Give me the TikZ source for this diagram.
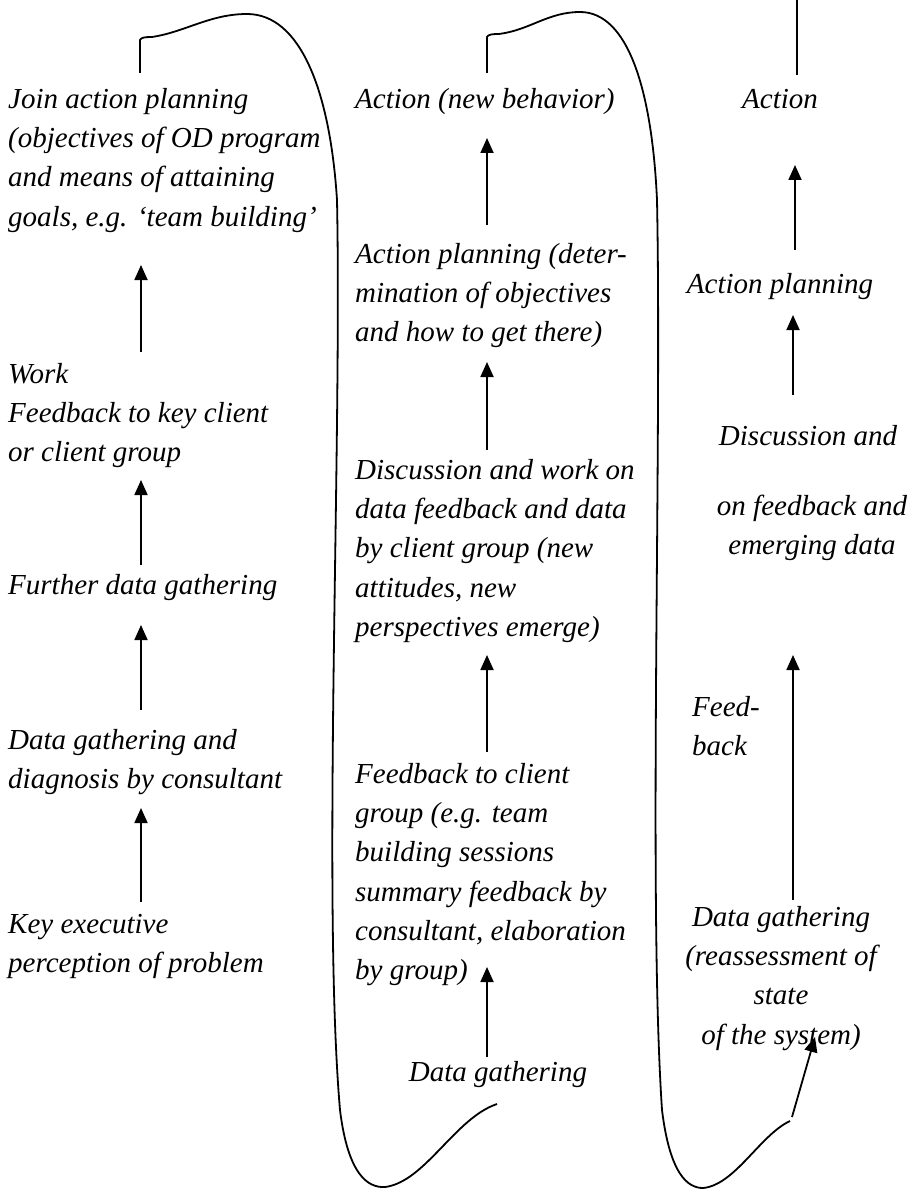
\documentclass[tikz,border=0pt]{standalone}
\usepackage{fontspec}
\setmainfont{Liberation Serif}
\usetikzlibrary{arrows.meta}
\begin{document}
\begin{tikzpicture}[x=1pt,y=-1pt,
  txt/.style={inner sep=0pt, font=\fontsize{29}{39.3}\selectfont\itshape},
  lt/.style={txt, anchor=north west, align=left},
  ct/.style={txt, anchor=north, align=center},
  arr/.style={line width=1.8pt, -{Triangle[length=15pt,width=13pt]}},
  loopline/.style={line width=1.8pt, line join=round}]
\useasboundingbox (0,0) rectangle (920,1190);

% ---- left column: initial diagnosis ----
\node[lt] (L1) at (8,80.5) {\strut Join action planning\\(objectives of OD program\\and means of attaining\\goals, e.g. ‘team building’};
\node[lt] (L2) at (8,355.5) {\strut Work\\Feedback to key client\\or client group};
\node[lt] (L3) at (8,566.5) {\strut Further data gathering};
\node[lt] (L4) at (8,721.5) {\strut Data gathering and\\diagnosis by consultant};
\node[lt] (L5) at (8,905.5) {\strut Key executive\\perception of problem};

% ---- middle column: team building cycle ----
\node[lt] (M1) at (355,80.5) {\strut Action (new behavior)};
\node[lt] (M2) at (355,235.5) {\strut Action planning (deter-\\mination of objectives\\and how to get there)};
\node[lt] (M3) at (355,451.5) {\strut Discussion and work on\\data feedback and data\\by client group (new\\attitudes, new\\perspectives emerge)};
\node[lt] (M4) at (355,755.5) {\strut Feedback to client\\group (e.g. team\\building sessions\\summary feedback by\\consultant, elaboration\\by group)};
\node[ct] (M5) at (498,1053.5) {\strut Data gathering};

% ---- right column: reassessment cycle ----
\node[ct] (R1) at (780,80.5) {\strut Action};
\node[ct] (R2) at (780,265.5) {\strut Action planning};
\node[ct] (R3) at (808,417.5) {\strut Discussion and};
\node[ct] (R4) at (812,487.5) {\strut on feedback and\\emerging data};
\node[lt] (R5) at (692,688.5) {\strut Feed-\\back};
\node[ct] (R6) at (781,898.5) {\strut Data gathering\\(reassessment of\\state\\of the system)};

% arrow end points
\coordinate (l1a) at (141,902); \coordinate (l1b) at (141,808);
\coordinate (l2a) at (141,710); \coordinate (l2b) at (141,625);
\coordinate (l3a) at (141,565); \coordinate (l3b) at (141,480);
\coordinate (l4a) at (141,352); \coordinate (l4b) at (141,265);
\coordinate (m1a) at (487,1057); \coordinate (m1b) at (487,967);
\coordinate (m2a) at (487,752); \coordinate (m2b) at (487,655);
\coordinate (m3a) at (487,450); \coordinate (m3b) at (487,362);
\coordinate (m4a) at (487,225); \coordinate (m4b) at (487,138);
\coordinate (r1a) at (793,900); \coordinate (r1b) at (793,655);
\coordinate (r2a) at (793,395); \coordinate (r2b) at (793,315);
\coordinate (r3a) at (795,250); \coordinate (r3b) at (795,165);
\coordinate (r4a) at (792,1117); \coordinate (r4b) at (815,1037);

\draw[arr] (l1a) -- (l1b);
\draw[arr] (l2a) -- (l2b);
\draw[arr] (l3a) -- (l3b);
\draw[arr] (l4a) -- (l4b);
\draw[arr] (m1a) -- (m1b);
\draw[arr] (m2a) -- (m2b);
\draw[arr] (m3a) -- (m3b);
\draw[arr] (m4a) -- (m4b);
\draw[arr] (r1a) -- (r1b);
\draw[arr] (r2a) -- (r2b);
\draw[arr] (r3a) -- (r3b);
\draw[arr] (r4a) -- (r4b);

% loop from the left column over to the start of the middle cycle
\coordinate (ta) at (140,73);
\coordinate (ea) at (497,1104);
\draw[loopline] (ta) -- (140,40)
  .. controls (141,37.5) and (145,37) .. (152,37)
  .. controls (185,32) and (210,14) .. (247,14)
  .. controls (300,14) and (330,90) .. (337,200)
  .. controls (342,450) and (322,900) .. (340,1110)
  .. controls (348,1175) and (368,1188) .. (385,1187)
  .. controls (425,1182) and (455,1118) .. (ea);

% loop from the middle column over to the start of the right cycle
\coordinate (tb) at (487,73);
\coordinate (eb) at (790,1121);
\draw[loopline] (tb) -- (487,37)
  .. controls (488,34.5) and (492,34) .. (499,34)
  .. controls (530,30) and (548,12) .. (580,12)
  .. controls (628,12) and (652,90) .. (657,200)
  .. controls (662,450) and (648,900) .. (662,1110)
  .. controls (670,1175) and (688,1188) .. (703,1188)
  .. controls (735,1185) and (760,1135) .. (eb);

% open line above the right column
\coordinate (tc) at (797,0);
\coordinate (tc2) at (797,75);
\draw[loopline] (tc) -- (tc2);
\end{tikzpicture}
\end{document}
